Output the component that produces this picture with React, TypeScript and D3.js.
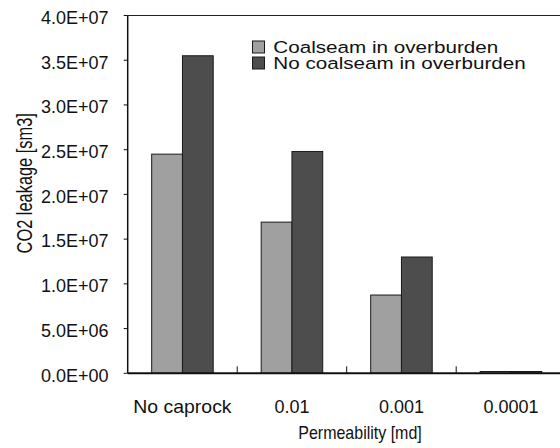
import React from "react";
import * as d3 from "d3";

const categories = ["No caprock", "0.01", "0.001", "0.0001"];
const seriesNames = ["Coalseam in overburden", "No coalseam in overburden"];
const coalseam = [2.45e7, 1.69e7, 8.75e6, 2.0e5];
const noCoalseam = [3.55e7, 2.48e7, 1.3e7, 2.0e5];
const yTicks = [0, 5e6, 1e7, 1.5e7, 2e7, 2.5e7, 3e7, 3.5e7, 4e7];
const colors = ["#a0a0a0", "#4d4d4d"];

const W = 560;
const H = 448;
const left = 127.7;
const right = 565.7;
const top = 15.5;
const bottom = 373.3;
const FONT = "'Liberation Sans', Arial, sans-serif";

function fmtExp(v: number): string {
  const s = v.toExponential(1).toUpperCase();
  const m = s.match(/^([\d.]+)E([+-])(\d+)$/);
  if (!m) return s;
  return `${m[1]}E${m[2]}${m[3].padStart(2, "0")}`;
}

export default function App() {
  const x = d3.scaleBand<string>().domain(categories).range([left, right]).paddingInner(0).paddingOuter(0);
  const bw = x.bandwidth();
  const sub = d3
    .scaleBand<string>()
    .domain(seriesNames)
    .range([bw * 0.219, bw * 0.781])
    .padding(0);
  const y = d3.scaleLinear().domain([0, 4e7]).range([bottom, top]);
  const series = [coalseam, noCoalseam];

  return (
    <svg
      width={W}
      height={H}
      style={{ position: "absolute", left: 0, top: 0, background: "#fff" }}
      fontFamily={FONT}
    >
      <rect x={0} y={0} width={W} height={H} fill="#fff" />
      <line x1={left} x2={right} y1={top} y2={top} stroke="#222" strokeWidth={1} />
      {categories.map((c, i) =>
        seriesNames.map((s, j) => {
          const v = series[j][i];
          const bx = (x(c) as number) + (sub(s) as number);
          return (
            <rect
              key={c + s}
              x={bx}
              y={y(v)}
              width={sub.bandwidth()}
              height={bottom - y(v)}
              fill={colors[j]}
              stroke="#1a1a1a"
              strokeWidth={1}
            />
          );
        })
      )}
      <line x1={left} x2={left} y1={top} y2={bottom} stroke="#111" strokeWidth={1.5} />
      {yTicks.map((t) => (
        <g key={t}>
          <line x1={left - 4} x2={left} y1={y(t)} y2={y(t)} stroke="#111" strokeWidth={1} />
          <text x={108.5} y={y(t) + 8.3} textAnchor="end" fontSize={18} fill="#111">
            {fmtExp(t)}
          </text>
        </g>
      ))}
      <line x1={left} x2={right} y1={bottom} y2={bottom} stroke="#111" strokeWidth={2} />
      {categories.slice(1).map((c) => (
        <line
          key={"t" + c}
          x1={x(c) as number}
          x2={x(c) as number}
          y1={bottom}
          y2={bottom - 7}
          stroke="#111"
          strokeWidth={1}
        />
      ))}
      {categories.map((c, i) => (
        <text
          key={"l" + c}
          transform={`translate(${(x(c) as number) + bw / 2},413) scale(${i === 0 ? 1.08 : 1},1)`}
          textAnchor="middle"
          fontSize={18}
          fill="#111"
        >
          {c}
        </text>
      ))}
      <text transform="translate(360,439) scale(1,1.2)" textAnchor="middle" fontSize={16} fill="#111">
        Permeability [md]
      </text>
      <text
        transform="translate(31.5,183.3) rotate(-90) scale(1,1.3)"
        textAnchor="middle"
        fontSize={16.4}
        fill="#111"
      >
        CO2 leakage [sm3]
      </text>
      {seriesNames.map((s, j) => (
        <g key={"lg" + s} transform={`translate(252.5,${41 + j * 16})`}>
          <rect x={0} y={0} width={12} height={12} fill={colors[j]} stroke="#1a1a1a" strokeWidth={1} />
          <text transform="translate(20.8,12.3) scale(1.215,1)" fontSize={17} fill="#111">
            {s}
          </text>
        </g>
      ))}
    </svg>
  );
}
